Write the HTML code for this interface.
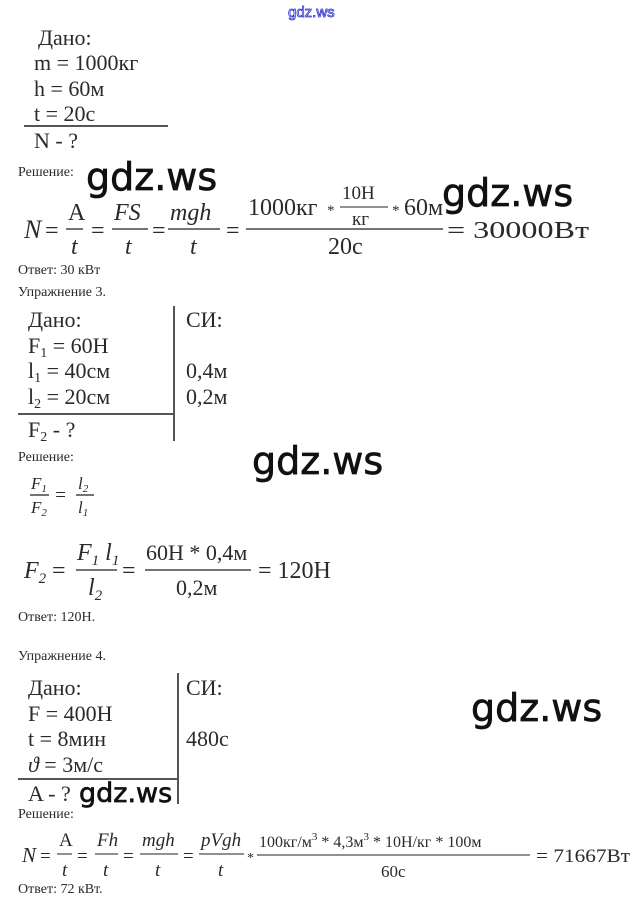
<!DOCTYPE html>
<html><head><meta charset="utf-8"><style>
html,body{margin:0;padding:0;background:#fff;}
svg{display:block}
.s{font-family:"Liberation Serif",serif;fill:#2a2a2a}
.i{font-family:"Liberation Serif",serif;font-style:italic;fill:#2a2a2a}
.w{font-family:"DejaVu Sans","Liberation Sans",sans-serif;fill:#111;stroke:#111;stroke-width:0.7}
</style></head><body>
<svg width="632" height="904" viewBox="0 0 632 904" xmlns="http://www.w3.org/2000/svg">
<text x="288" y="17" font-size="15" font-family="Liberation Sans,sans-serif" fill="none" stroke="#3030d0" stroke-width="0.8">gdz.ws</text>

<g class="s" font-size="22">
<text x="38" y="45">Дано:</text>
<text x="34" y="70">m = 1000кг</text>
<text x="34" y="96">h = 60м</text>
<text x="34" y="121">t = 20с</text>
<text x="34" y="148">N - ?</text>
</g>
<line x1="24" y1="126" x2="168" y2="126" stroke="#555" stroke-width="2"/>
<text class="s" x="18" y="176" font-size="14">Решение:</text>
<text class="w" x="86" y="190" font-size="38">gdz.ws</text>
<text class="w" x="442" y="206" font-size="38">gdz.ws</text>

<text class="i" x="24" y="238" font-size="26">N</text>
<g class="s" font-size="24">
<text x="45" y="238">=</text>
<text x="68" y="220">A</text><line x1="66" y1="229" x2="83" y2="229" stroke="#222" stroke-width="1.3"/><text class="i" x="71" y="254">t</text>
<text x="91" y="238">=</text>
<text class="i" x="114" y="220">FS</text><line x1="112" y1="229" x2="148" y2="229" stroke="#222" stroke-width="1.3"/><text class="i" x="125" y="254">t</text>
<text x="152" y="238">=</text>
<text class="i" x="170" y="220">mgh</text><line x1="168" y1="229" x2="220" y2="229" stroke="#222" stroke-width="1.3"/><text class="i" x="190" y="254">t</text>
<text x="226" y="238">=</text>
<text x="248" y="215">1000кг</text><text x="327" y="215" font-size="15">*</text>
<text x="342" y="199" font-size="19">10Н</text><line x1="340" y1="207" x2="388" y2="207" stroke="#222" stroke-width="1"/><text x="352" y="225" font-size="19">кг</text>
<text x="392" y="215" font-size="15">*</text><text x="404" y="215">60м</text>
<line x1="246" y1="229" x2="443" y2="229" stroke="#222" stroke-width="1.3"/>
<text x="328" y="254">20с</text>
<text x="447" y="238" textLength="142" lengthAdjust="spacingAndGlyphs">= 30000Вт</text>
</g>
<text class="s" x="18" y="274" font-size="14">Ответ: 30 кВт</text>
<text class="s" x="18" y="296" font-size="14">Упражнение 3.</text>

<g class="s" font-size="22">
<text x="28" y="327">Дано:</text>
<text x="28" y="353">F<tspan font-size="14" dy="4">1</tspan><tspan dy="-4"> = 60Н</tspan></text>
<text x="28" y="378">l<tspan font-size="14" dy="4">1</tspan><tspan dy="-4"> = 40см</tspan></text>
<text x="28" y="404">l<tspan font-size="14" dy="4">2</tspan><tspan dy="-4"> = 20см</tspan></text>
<text x="28" y="437">F<tspan font-size="14" dy="4">2</tspan><tspan dy="-4"> - ?</tspan></text>
<text x="186" y="327">СИ:</text>
<text x="186" y="378">0,4м</text>
<text x="186" y="404">0,2м</text>
</g>
<line x1="174" y1="306" x2="174" y2="441" stroke="#555" stroke-width="2"/>
<line x1="18" y1="414" x2="174" y2="414" stroke="#555" stroke-width="2"/>
<text class="s" x="18" y="461" font-size="14">Решение:</text>
<text class="w" x="252" y="474" font-size="38">gdz.ws</text>

<g class="i" font-size="17">
<text x="31" y="489">F<tspan font-size="11" dy="3">1</tspan></text>
<line x1="30" y1="495" x2="49" y2="495" stroke="#222" stroke-width="1.2"/>
<text x="31" y="513">F<tspan font-size="11" dy="3">2</tspan></text>
<text class="s" x="54" y="501" font-size="19">=</text>
<text x="78" y="489">l<tspan font-size="11" dy="3">2</tspan></text>
<line x1="76" y1="495" x2="94" y2="495" stroke="#222" stroke-width="1.2"/>
<text x="78" y="513">l<tspan font-size="11" dy="3">1</tspan></text>
</g>

<g font-size="24">
<text class="i" x="24" y="578">F<tspan font-size="15" dy="5">2</tspan></text>
<text class="s" x="52" y="578">=</text>
<text class="i" x="77" y="560">F<tspan font-size="15" dy="5">1</tspan><tspan dy="-5"> l</tspan><tspan font-size="15" dy="5">1</tspan></text>
<line x1="76" y1="570" x2="117" y2="570" stroke="#222" stroke-width="1.3"/>
<text class="i" x="88" y="595">l<tspan font-size="15" dy="5">2</tspan></text>
<text class="s" x="122" y="578">=</text>
<text class="s" x="146" y="560" font-size="22">60Н * 0,4м</text>
<line x1="145" y1="570" x2="251" y2="570" stroke="#222" stroke-width="1.3"/>
<text class="s" x="176" y="595" font-size="22">0,2м</text>
<text class="s" x="258" y="578">= 120Н</text>
</g>
<text class="s" x="18" y="621" font-size="14">Ответ: 120Н.</text>
<text class="s" x="18" y="660" font-size="14">Упражнение 4.</text>

<g class="s" font-size="22">
<text x="28" y="695">Дано:</text>
<text x="28" y="721">F = 400Н</text>
<text x="28" y="746">t = 8мин</text>
<text x="28" y="772"><tspan font-style="italic">ϑ</tspan> = 3м/с</text>
<text x="28" y="801">A - ?</text>
<text x="186" y="695">СИ:</text>
<text x="186" y="746">480с</text>
</g>
<line x1="178" y1="673" x2="178" y2="804" stroke="#555" stroke-width="2"/>
<line x1="18" y1="779" x2="178" y2="779" stroke="#555" stroke-width="2"/>
<text class="w" x="79" y="802" font-size="27">gdz.ws</text>
<text class="w" x="471" y="721" font-size="38">gdz.ws</text>
<text class="s" x="18" y="818" font-size="14">Решение:</text>

<g font-size="19">
<text class="i" x="22" y="862" font-size="21">N</text>
<text class="s" x="40" y="862">=</text>
<text class="s" x="59" y="846">A</text><line x1="57" y1="854" x2="72" y2="854" stroke="#222"/><text class="i" x="62" y="876">t</text>
<text class="s" x="77" y="862">=</text>
<text class="i" x="97" y="846">Fh</text><line x1="95" y1="854" x2="118" y2="854" stroke="#222"/><text class="i" x="103" y="876">t</text>
<text class="s" x="123" y="862">=</text>
<text class="i" x="142" y="846">mgh</text><line x1="140" y1="854" x2="178" y2="854" stroke="#222"/><text class="i" x="155" y="876">t</text>
<text class="s" x="183" y="862">=</text>
<text class="i" x="201" y="846">pVgh</text><line x1="199" y1="854" x2="244" y2="854" stroke="#222"/><text class="i" x="218" y="876">t</text>
<text class="s" x="247" y="862" font-size="14">*</text>
<text class="s" x="259" y="847" font-size="16">100кг/м<tspan font-size="11" dy="-7">3</tspan><tspan dy="7"> * 4,3м</tspan><tspan font-size="11" dy="-7">3</tspan><tspan dy="7"> * 10Н/кг * 100м</tspan></text>
<line x1="257" y1="855" x2="530" y2="855" stroke="#222"/>
<text class="s" x="381" y="877" font-size="17">60с</text>
<text class="s" x="536" y="862" textLength="94" lengthAdjust="spacingAndGlyphs">= 71667Вт</text>
</g>
<text class="s" x="18" y="893" font-size="14">Ответ: 72 кВт.</text>
</svg>
</body></html>
